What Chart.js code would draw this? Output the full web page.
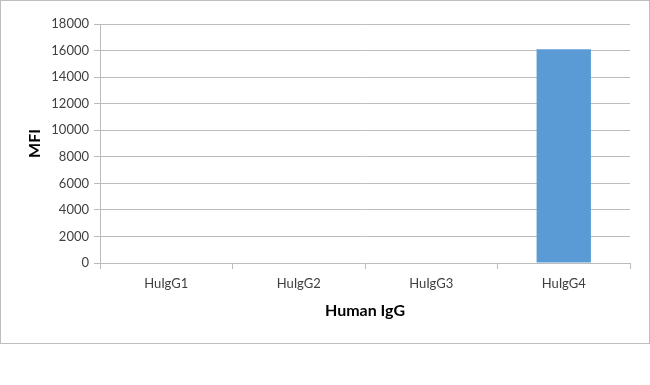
<!DOCTYPE html>
<html>
<head>
<meta charset="utf-8">
<script src="https://cdn.jsdelivr.net/npm/chart.js@4"></script>
<style>
  html, body { margin: 0; padding: 0; background: #fff; }
  #frame { position: absolute; left: 0; top: 0; width: 648px; height: 342px; border: 1px solid #bdbdbd; }
</style>
</head>
<body>
<div id="frame"><canvas id="chart" width="648" height="342"></canvas></div>
<script>
const categories = ["HuIgG1", "HuIgG2", "HuIgG3", "HuIgG4"];
const mfiValues = [0, 0, 0, 16100];
const yTicks = [0, 2000, 4000, 6000, 8000, 10000, 12000, 14000, 16000, 18000];

const gridColor = "#bcbcbc";
const textColor = "#404040";
const fontFamily = "Lato, 'Open Sans', sans-serif";

new Chart(document.getElementById("chart").getContext("2d"), {
  type: "bar",
  data: {
    labels: categories,
    datasets: [{
      label: "MFI",
      data: mfiValues,
      backgroundColor: "#5b9bd5",
      borderWidth: 0,
      barPercentage: 0.41,
      categoryPercentage: 1
    }]
  },
  options: {
    responsive: false,
    animation: false,
    layout: { padding: { top: 23, right: 19, bottom: 0, left: 0 } },
    plugins: { legend: { display: false }, tooltip: { enabled: false } },
    scales: {
      x: {
        offset: true,
        grid: { display: true, drawOnChartArea: false, offset: true, color: gridColor, tickLength: 6 },
        border: { color: gridColor },
        ticks: { color: textColor, font: { family: fontFamily, size: 13 }, padding: 7 },
        title: { display: true, text: "Human IgG", color: "#000", font: { family: fontFamily, size: 16, weight: "bold" }, padding: { top: 0, bottom: 23 } },
        afterFit: scale => { scale.height = 80; }
      },
      y: {
        min: 0,
        max: yTicks[yTicks.length - 1],
        afterBuildTicks: scale => { scale.ticks = yTicks.map(v => ({ value: v })); },
        grid: { color: gridColor, tickLength: 6 },
        border: { color: gridColor },
        ticks: { color: textColor, font: { family: fontFamily, size: 13 }, padding: 5, callback: v => String(v) },
        title: { display: true, text: "MFI", color: "#000", font: { family: fontFamily, size: 16, weight: "bold" }, padding: { top: 24, bottom: 0 } },
        afterFit: scale => { scale.width = 99; }
      }
    }
  }
});
</script>
</body>
</html>
